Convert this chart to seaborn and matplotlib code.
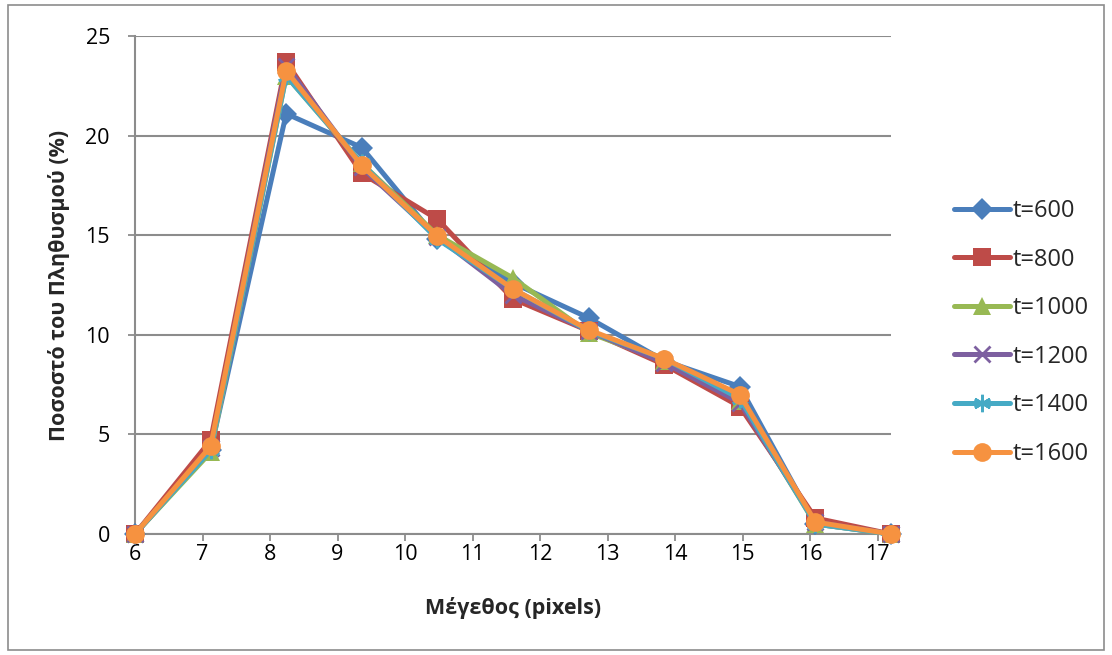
import matplotlib
matplotlib.use("Agg")
import matplotlib.pyplot as plt
import seaborn as sns
import pandas as pd
from matplotlib.patches import Rectangle

# ---- data ----
sizes = [6.0, 7.12, 8.24, 9.36, 10.48, 11.6, 12.72, 13.84, 14.96, 16.08, 17.2]
labels = ["t=600", "t=800", "t=1000", "t=1200", "t=1400", "t=1600"]
t600 = [0, 4.2, 21.1, 19.4, 14.8, 12.6, 10.85, 8.7, 7.4, 0.5, 0]
t800 = [0, 4.7, 23.7, 18.1, 15.8, 11.8, 10.2, 8.5, 6.4, 0.8, 0]
t1000 = [0, 4.1, 23.0, 18.6, 15.0, 12.85, 10.1, 8.7, 6.7, 0.5, 0]
t1200 = [0, 4.3, 23.5, 18.4, 14.9, 12.0, 10.2, 8.6, 6.6, 0.6, 0]
t1400 = [0, 4.2, 23.0, 18.6, 14.8, 12.3, 10.2, 8.8, 6.8, 0.5, 0]
t1600 = [0, 4.4, 23.25, 18.5, 14.95, 12.3, 10.25, 8.8, 7.0, 0.6, 0]
series = [t600, t800, t1000, t1200, t1400, t1600]
xticks = list(range(6, 18))
yticks = [0, 5, 10, 15, 20, 25]

colors = ["#4A7EBB", "#BE4B48", "#98B954", "#7D60A0", "#46AAC5", "#F69240"]
markers = ["D", "s", "^", "x", (6, 2, 0), "o"]
msizes = [11.5, 12.5, 13, 12, 12.5, 13.5]

sns.set_theme(style="white")
plt.rcParams["font.family"] = ["Open Sans", "DejaVu Sans"]

fig = plt.figure(figsize=(11.12, 6.55), dpi=100)
ax = fig.add_axes([135 / 1112, 1 - 534 / 655, (891 - 135) / 1112, (534 - 36) / 655])

for lab, vals, c, m, ms in zip(labels, series, colors, markers, msizes):
    df = pd.DataFrame({"x": sizes, "y": vals})
    kw = dict(markersize=ms, markerfacecolor=c, markeredgecolor=c)
    if m == "x" or isinstance(m, tuple):
        kw["markeredgewidth"] = 2.0
    else:
        kw["markeredgewidth"] = 0
    sns.lineplot(data=df, x="x", y="y", ax=ax, color=c, linewidth=3.6,
                 marker=m, label=lab, clip_on=False, zorder=3, **kw)

ax.set_xlim(6, 17.2)
ax.set_ylim(0, 25)
ax.set_xticks(xticks)
ax.set_yticks(yticks)
ax.set_xticklabels([str(v) for v in xticks], fontsize=15.5)
ax.set_yticklabels([str(v) for v in yticks], fontsize=15.5)
ax.yaxis.grid(True, color="#8C8C8C", linewidth=1.5)
ax.xaxis.grid(False)
ax.set_axisbelow(True)

for s in ["top", "right"]:
    ax.spines[s].set_visible(False)
for s in ["left", "bottom"]:
    ax.spines[s].set_visible(True)
    ax.spines[s].set_color("#8C8C8C")
    ax.spines[s].set_linewidth(1.5)

ax.tick_params(axis="both", which="both", direction="out", length=5, width=1.3,
               color="#8C8C8C", labelcolor="black", bottom=True, left=True)
ax.tick_params(axis="x", pad=2)
ax.tick_params(axis="y", pad=13)

ax.set_xlabel("Μέγεθος (pixels)", fontsize=15.5, fontweight="bold", labelpad=23)
ax.set_ylabel("Ποσοστό του Πληθυσμού (%)", fontsize=15.5, fontweight="bold", labelpad=11)

leg = ax.legend(loc="upper left", bbox_to_anchor=(954 / 1112, 1 - 199 / 655),
                bbox_transform=fig.transFigure, frameon=False, fontsize=17,
                handlelength=2.37, handletextpad=0.13, labelspacing=1.04,
                borderaxespad=0, borderpad=0)

fig.patches.append(Rectangle((8 / 1112, 5 / 655), (1104 - 8) / 1112, (650 - 5) / 655,
                             transform=fig.transFigure, fill=False,
                             edgecolor="#8C8C8C", linewidth=1.2))

fig.savefig("out.png", dpi=100, facecolor="white")
